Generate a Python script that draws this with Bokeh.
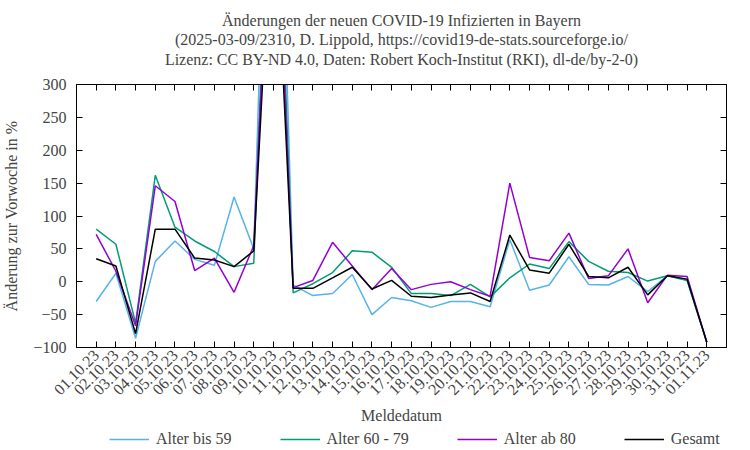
from math import pi
from bokeh.plotting import figure
from bokeh.layouts import column
from bokeh.models import Range1d, FixedTicker, LinearAxis, Legend, LegendItem, Title
from bokeh.embed import file_html
from bokeh.resources import INLINE

dates = ["01.10.23", "02.10.23", "03.10.23", "04.10.23", "05.10.23", "06.10.23",
         "07.10.23", "08.10.23", "09.10.23", "10.10.23", "11.10.23", "12.10.23",
         "13.10.23", "14.10.23", "15.10.23", "16.10.23", "17.10.23", "18.10.23",
         "19.10.23", "20.10.23", "21.10.23", "22.10.23", "23.10.23", "24.10.23",
         "25.10.23", "26.10.23", "27.10.23", "28.10.23", "29.10.23", "30.10.23",
         "31.10.23", "01.11.23"]
y_ticks = [-100, -50, 0, 50, 100, 150, 200, 250, 300]

alter_bis_59 = [-30, 13, -86, 31, 62, 34, 25, 129, 50, 1000, -5, -21, -18, 11, -50, -24,
                -29, -39, -30, -30, -38, 64, -13, -5, 38, -4, -5, 8, -15, 9, 3, -92]
alter_60_79 = [80, 57, -63, 162, 83, 62, 46, 23, 28, 800, -17, -3, 14, 47, 45, 22,
               -18, -18, -21, -4, -23, 6, 27, 20, 61, 31, 16, 14, 1, 9, 2, -92]
alter_ab_80 = [72, 16, -67, 146, 122, 17, 36, -16, 55, 700, -9, 2, 60, 24, -12, 20,
               -12, -4, 0, -12, -22, 150, 37, 32, 74, 5, 9, 50, -32, 10, 8, -92]
gesamt = [35, 24, -79, 80, 80, 36, 33, 23, 47, 620, -10, -10, 6, 22, -11, 2,
          -22, -24, -20, -17, -30, 71, 18, 13, 57, 8, 6, 22, -20, 9, 4, -92]

series_names = ["Alter bis 59", "Alter 60 - 79", "Alter ab 80", "Gesamt"]
series_colors = ["#56B4E9", "#009E73", "#9400D3", "#000000"]
series_values = [alter_bis_59, alter_60_79, alter_ab_80, gesamt]

title_lines = ["Änderungen der neuen COVID-19 Infizierten in Bayern",
               "(2025-03-09/2310, D. Lippold, https://covid19-de-stats.sourceforge.io/",
               "Lizenz: CC BY-ND 4.0, Daten: Robert Koch-Institut (RKI), dl-de/by-2-0)"]

FONT = "Liberation Serif"
FS = "16px"

x_idx = list(range(len(dates)))

p = figure(width=750, height=426, output_backend="svg", toolbar_location=None,
           x_range=Range1d(-1, len(dates)), y_range=Range1d(-100, 300),
           min_border_left=72, min_border_right=24, min_border_top=84,
           min_border_bottom=75, background_fill_color="white",
           border_fill_color="white")

p.grid.visible = False
p.outline_line_color = "black"
p.outline_line_width = 1

for vals, col in zip(series_values, series_colors):
    p.line(x_idx, vals, line_color=col, line_width=1.5)

# bottom axis
xa = p.xaxis[0]
xa.ticker = FixedTicker(ticks=x_idx)
xa.major_label_overrides = {i: d for i, d in enumerate(dates)}
xa.major_label_orientation = pi / 4
xa.major_tick_in = 6
xa.major_tick_out = 0
xa.minor_tick_line_color = None
xa.major_label_text_font = FONT
xa.major_label_text_font_size = FS
xa.major_label_standoff = 5
xa.axis_label = "Meldedatum"
xa.axis_label_text_font = FONT
xa.axis_label_text_font_size = FS
xa.axis_label_text_font_style = "normal"
xa.axis_label_standoff = 4
xa.axis_line_color = "black"

ya = p.yaxis[0]
ya.ticker = FixedTicker(ticks=y_ticks)
ya.major_tick_in = 6
ya.major_tick_out = 0
ya.minor_tick_line_color = None
ya.major_label_text_font = FONT
ya.major_label_text_font_size = FS
ya.major_label_standoff = 10
ya.axis_label = "Änderung zur Vorwoche in %"
ya.axis_label_text_font = FONT
ya.axis_label_text_font_size = FS
ya.axis_label_text_font_style = "normal"
ya.axis_label_standoff = 10
ya.axis_line_color = "black"

# mirrored ticks (labels not drawn); the top one carries the third title line
p.add_layout(LinearAxis(ticker=FixedTicker(ticks=y_ticks), major_tick_in=6,
                        major_tick_out=0, minor_tick_line_color=None,
                        major_label_text_color=None, major_label_standoff=0,
                        axis_line_color="black"), "right")
p.add_layout(LinearAxis(ticker=FixedTicker(ticks=x_idx), major_tick_in=6,
                        major_tick_out=0, minor_tick_line_color=None,
                        major_label_text_color=None, major_label_standoff=0,
                        axis_label=title_lines[2], axis_label_text_font=FONT,
                        axis_label_text_font_size=FS, axis_label_text_font_style="normal",
                        axis_label_standoff=17, axis_line_color="black"), "above")

p.add_layout(Title(text=title_lines[1], align="center", text_font=FONT,
                   text_font_size=FS, text_font_style="normal", standoff=0), "above")
p.title.text = title_lines[0]
p.title.align = "center"
p.title.text_font = FONT
p.title.text_font_size = FS
p.title.text_font_style = "normal"
p.title.standoff = 0

# legend strip below the chart (its series lie outside this strip's view,
# only the legend samples are seen)
leg = figure(width=750, height=24, output_backend="svg", toolbar_location=None,
             title=None, x_axis_type=None, y_axis_type=None, min_border=0,
             x_range=Range1d(-1, len(dates)), y_range=Range1d(10000, 10001),
             outline_line_color=None, background_fill_color="white",
             border_fill_color="white")
leg.grid.visible = False
leg_renderers = [leg.line(x_idx, vals, line_color=c, line_width=1.5)
                 for vals, c in zip(series_values, series_colors)]
legend = Legend(items=[LegendItem(label=n, renderers=[r]) for n, r in zip(series_names, leg_renderers)],
                orientation="horizontal", location=(33, 2), margin=0, padding=2,
                glyph_width=40, glyph_height=16, label_height=16,
                label_standoff=7, spacing=48,
                label_text_font=FONT, label_text_font_size=FS,
                border_line_color=None, background_fill_alpha=0)
leg.add_layout(legend)

layout = column(p, leg, spacing=0)
open("out.html", "w").write(file_html(layout, INLINE))
